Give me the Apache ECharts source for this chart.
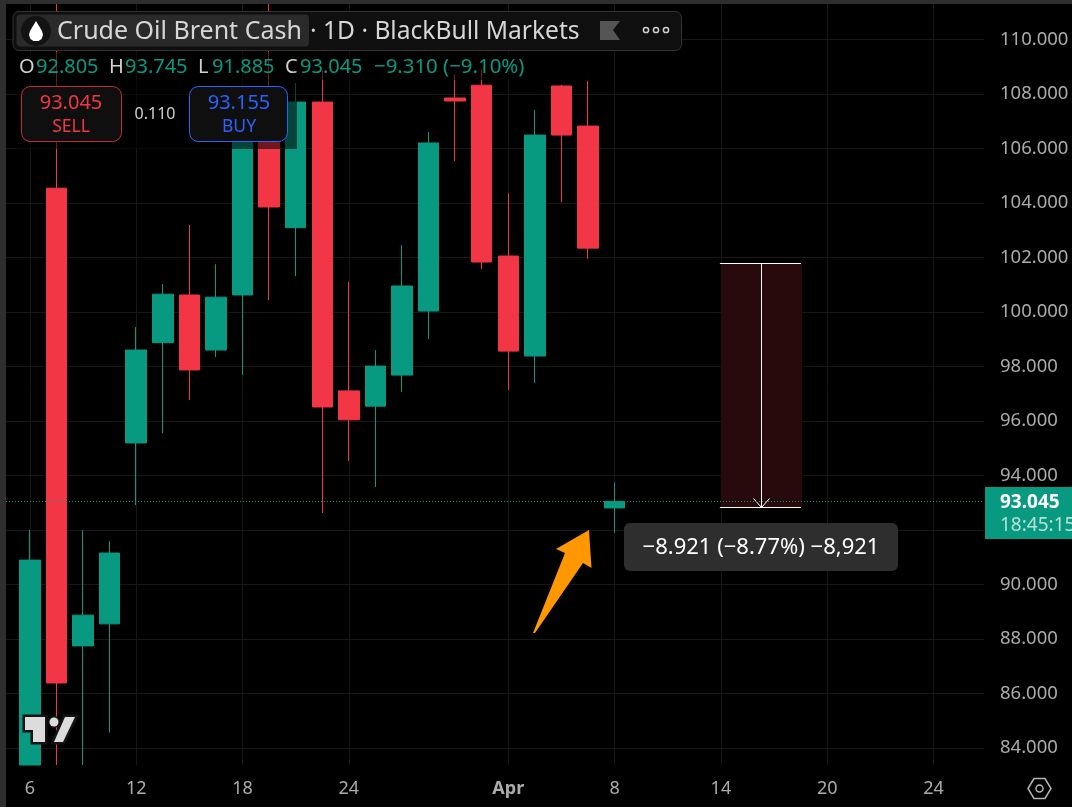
<!DOCTYPE html>
<html>
<head>
<meta charset="utf-8">
<script src="https://cdn.jsdelivr.net/npm/echarts@6/dist/echarts.min.js"></script>
<style>
    html, body { margin: 0; padding: 0; background: #000; }
</style>
</head>
<body>
<div id="main" style="width: 1072px;height:807px;"></div>
<script type="text/javascript">
    // daily bars (anything running out of view stops at the view's edge)
    var opens  = [83.37, 104.54, 87.74, 88.55, 95.19, 98.87, 100.62, 98.60, 100.62, 107.20, 103.09, 107.70, 97.10, 96.54, 97.68, 100.03, 107.85, 108.32, 102.05, 98.38, 108.29, 106.82, 92.805];
    var closes = [90.89, 86.38, 88.87, 91.15, 98.60, 100.65, 97.87, 100.54, 106.85, 103.85, 107.70, 96.51, 96.04, 98.01, 100.95, 106.20, 107.74, 101.83, 98.56, 106.49, 106.49, 102.34, 93.045];
    var lows   = [83.37, 83.37, 83.37, 84.56, 92.91, 95.55, 96.77, 98.34, 97.68, 100.43, 101.31, 92.62, 94.53, 93.57, 97.06, 99.00, 105.53, 101.57, 97.13, 97.39, 104.03, 101.94, 91.885];
    var highs  = [92.00, 111.30, 91.99, 91.59, 99.44, 101.02, 103.19, 101.75, 108.15, 111.30, 108.40, 108.87, 101.10, 98.60, 102.45, 106.60, 108.73, 108.91, 104.36, 107.41, 108.33, 108.47, 93.745];

    var xTicks = [0, 4, 8, 12, 18, 22, 26, 30, 34];
    var xTickLabels = ['6', '12', '18', '24', 'Apr', '8', '14', '20', '24'];
    var yTicks = [84, 86, 88, 90, 92, 94, 96, 98, 100, 102, 104, 106, 108, 110];

    var lastPrice = 93.045;
    // price range measuring tool: bars from/to, prices from/to
    var measureX = [26, 29.05];
    var measureY = [101.77, 92.82];

    var upColor = '#089981';
    var downColor = '#F23645';
    var axisColor = '#ababab';
    var gridColor = '#171717';
    var fontName = '"Noto Sans"';

    var candles = opens.map(function (o, i) {
        return [i, o, closes[i], lows[i], highs[i]];
    });

    function txt(x, y, text, size, color, extra) {
        var st = { x: x, y: y, text: text, fontSize: size, fontFamily: fontName, fill: color, textVerticalAlign: 'middle' };
        for (var k in extra) { st[k] = extra[k]; }
        return { type: 'text', z: 110, silent: true, style: st };
    }

    function box(x, y, w, h, r, fill, stroke, z) {
        return {
            type: 'rect', z: z || 105, silent: true,
            shape: { x: x, y: y, width: w, height: h, r: r },
            style: { fill: fill, stroke: stroke || null, lineWidth: 1 }
        };
    }

    function poly(points, fill, extra) {
        var st = { fill: fill };
        for (var k in extra) { st[k] = extra[k]; }
        return { type: 'polygon', z: 110, silent: true, shape: { points: points }, style: st };
    }

    var logoT = [[25, 717], [45, 717], [45, 742], [33, 742], [33, 730], [25, 730]];
    var logoSlash = [[65, 717], [75, 717], [63, 742], [54, 742]];
    var logoBack = '#141414';

    var overlay = [
        // window frame
        box(0, 0, 6, 807, 0, '#2e2e2e'),
        box(0, 0, 1072, 4, 0, '#2e2e2e'),

        // legend strips that dim the bars behind them
        box(12, 52, 518, 28, 0, 'rgba(0,0,0,0.55)', null, 102),
        box(16, 80, 281, 69, 0, 'rgba(0,0,0,0.55)', null, 102),

        // title bar
        box(13, 11.5, 668.5, 39, 6, '#0f0f0f', '#333333'),
        box(16.5, 14.5, 292.5, 32, 4, '#2a2a2a', null, 106),
        { type: 'circle', z: 107, silent: true, shape: { cx: 36, cy: 31, r: 15 }, style: { fill: '#131313' } },
        poly([[36, 21], [39, 26], [42, 31], [43, 35], [41.5, 39], [38.5, 41], [33.5, 41], [30.5, 39], [29, 35], [30, 31], [33, 26]], '#ffffff'),
        txt(57, 32, 'Crude Oil Brent Cash', 25, '#d6d6d6'),
        txt(310, 32, '· 1D · BlackBull Markets', 24.6, '#d6d6d6'),
        poly([[600, 21], [620, 21], [613, 30], [620, 40], [600, 40]], '#555555'),
        { type: 'circle', z: 110, silent: true, shape: { cx: 646, cy: 30, r: 2.6 }, style: { fill: 'none', stroke: '#d0d0d0', lineWidth: 1.5 } },
        { type: 'circle', z: 110, silent: true, shape: { cx: 656, cy: 30, r: 2.6 }, style: { fill: 'none', stroke: '#d0d0d0', lineWidth: 1.5 } },
        { type: 'circle', z: 110, silent: true, shape: { cx: 666, cy: 30, r: 2.6 }, style: { fill: 'none', stroke: '#d0d0d0', lineWidth: 1.5 } },

        // OHLC row
        txt(19, 67, 'O', 20, '#d1d1d1'),
        txt(36, 67, '92.805', 20, upColor),
        txt(109, 67, 'H', 20, '#d1d1d1'),
        txt(125, 67, '93.745', 20, upColor),
        txt(198, 67, 'L', 20, '#d1d1d1'),
        txt(212, 67, '91.885', 20, upColor),
        txt(285, 67, 'C', 20, '#d1d1d1'),
        txt(300, 67, '93.045', 20, upColor),
        txt(374, 67, '−9.310 (−9.10%)', 20.4, upColor),

        // sell / buy buttons
        box(21.5, 86.5, 100, 55, 9, '#0f0f0f', '#c42b3b'),
        txt(71, 103, '93.045', 20, downColor, { textAlign: 'center' }),
        txt(71, 127, 'SELL', 17.5, downColor, { textAlign: 'center' }),
        txt(155, 114, '0.110', 16, '#d1d1d1', { textAlign: 'center' }),
        box(189.5, 86.5, 98, 55, 9, '#0f0f0f', '#2962ff'),
        txt(239, 103, '93.155', 20, '#2962ff', { textAlign: 'center' }),
        txt(239, 127, 'BUY', 17.5, '#2962ff', { textAlign: 'center' }),

        // last price tag on the axis
        box(985, 487, 87, 52, 0, upColor),
        txt(1000, 503, '93.045', 19, '#ffffff', { fontWeight: 'bold' }),
        txt(1000, 526, '18:45:15', 19, '#b5e0d8'),

        // measure label
        box(624, 523, 274, 48, 6, '#2e2e2e'),
        txt(761, 548, '−8.921 (−8.77%) −8,921', 22, '#ffffff', { textAlign: 'center' }),

        // orange arrow drawn on the screenshot
        poly([[533, 633], [535, 633], [583, 563], [591.5, 568], [589, 530], [556, 549], [565, 553]], '#FF9800'),

        // logo watermark: dark outline first, then the light shape on top
        poly(logoT, logoBack, { stroke: logoBack, lineWidth: 5 }),
        poly(logoSlash, logoBack, { stroke: logoBack, lineWidth: 5 }),
        { type: 'circle', z: 110, silent: true, shape: { cx: 54, cy: 722, r: 6 }, style: { fill: logoBack } },
        { type: 'polygon', z: 111, silent: true, shape: { points: logoT }, style: { fill: '#dcdcdc' } },
        { type: 'polygon', z: 111, silent: true, shape: { points: logoSlash }, style: { fill: '#dcdcdc' } },
        { type: 'circle', z: 111, silent: true, shape: { cx: 54, cy: 722, r: 4.5 }, style: { fill: '#dcdcdc' } },

        // settings icon bottom right
        poly([[1028, 788.5], [1034, 778.5], [1045, 778.5], [1051, 788.5], [1045, 798.5], [1034, 798.5]], 'none', { stroke: '#b4b4b4', lineWidth: 1.5 }),
        { type: 'circle', z: 110, silent: true, shape: { cx: 1039.5, cy: 788.5, r: 3.5 }, style: { fill: 'none', stroke: '#b4b4b4', lineWidth: 1.5 } }
    ];

    // keep the tool's thin lines on whole pixels
    function snap(v) {
        return Math.floor(v) + 0.5;
    }

    // the shaded box, edges and arrow of the price range tool
    function renderMeasure(params, api) {
        var a = api.coord([measureX[0], measureY[0]]);
        var b = api.coord([measureX[1], measureY[1]]);
        var mid = snap((a[0] + b[0]) / 2);
        var top = snap(a[1]);
        var bottom = snap(b[1]);
        var white = { stroke: '#ffffff', lineWidth: 1 };
        return {
            type: 'group',
            children: [
                { type: 'rect', shape: { x: a[0], y: top, width: b[0] - a[0], height: bottom - top }, style: { fill: '#290a0c' } },
                { type: 'line', shape: { x1: a[0] - 1, y1: top, x2: b[0] - 1, y2: top }, style: white },
                { type: 'line', shape: { x1: a[0] - 1, y1: bottom, x2: b[0] - 1, y2: bottom }, style: white },
                { type: 'line', shape: { x1: mid, y1: top, x2: mid, y2: bottom }, style: white },
                { type: 'line', shape: { x1: mid - 8, y1: bottom - 9, x2: mid, y2: bottom }, style: white },
                { type: 'line', shape: { x1: mid + 8, y1: bottom - 9, x2: mid, y2: bottom }, style: white }
            ]
        };
    }

    var myChart = echarts.init(document.getElementById('main'));

    var option = {
        animation: false,
        backgroundColor: '#000000',
        grid: { left: 6, right: 88, top: 4, bottom: 42 },
        xAxis: {
            type: 'value',
            min: -0.9,
            max: 35.9,
            axisLine: { show: false },
            axisTick: { show: false, customValues: xTicks },
            axisLabel: {
                customValues: xTicks,
                margin: 15,
                color: axisColor,
                fontSize: 18,
                fontFamily: fontName,
                formatter: function (v) {
                    var s = xTickLabels[xTicks.indexOf(v)];
                    return s === 'Apr' ? '{b|Apr}' : s;
                },
                rich: { b: { fontSize: 18, fontWeight: 'bold', color: axisColor, fontFamily: fontName } }
            },
            splitLine: { show: true, lineStyle: { color: gridColor, width: 1 } }
        },
        yAxis: {
            type: 'value',
            position: 'right',
            scale: true,
            min: 83.37,
            max: 111.30,
            axisLine: { show: false },
            axisTick: { show: false, customValues: yTicks },
            axisLabel: {
                customValues: yTicks,
                margin: 16,
                padding: [2, 0, 0, 0],
                color: axisColor,
                fontSize: 18.5,
                fontFamily: fontName,
                formatter: function (v) { return v.toFixed(3); }
            },
            splitLine: { show: true, lineStyle: { color: gridColor, width: 1 } }
        },
        series: [{
            type: 'custom',
            silent: true,
            z: 1,
            renderItem: renderMeasure,
            data: [[measureX[0], measureY[0]]]
        }, {
            type: 'candlestick',
            z: 3,
            barWidth: 21,
            silent: true,
            itemStyle: {
                color: upColor,
                color0: downColor,
                borderColor: upColor,
                borderColor0: downColor,
                borderWidth: 1
            },
            markLine: {
                silent: true,
                symbol: 'none',
                label: { show: false },
                lineStyle: { color: upColor, type: [1, 2], width: 1 },
                data: [{ yAxis: lastPrice }]
            },
            data: candles
        }],
        graphic: { elements: overlay }
    };

    myChart.setOption(option);
</script>
</body>
</html>
